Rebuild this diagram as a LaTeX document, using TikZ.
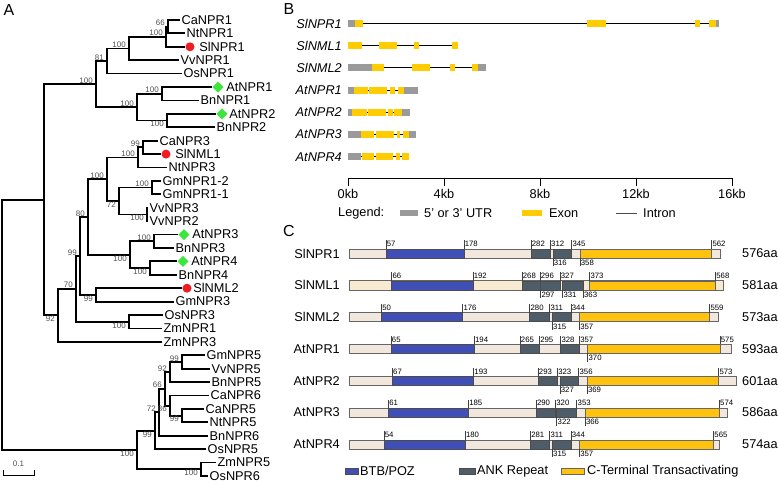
\documentclass[tikz,border=0pt]{standalone}
\usepackage{fontspec}
\setmainfont{Liberation Sans}
\usetikzlibrary{shapes.geometric, positioning}

\definecolor{bsgray}{HTML}{505050}
\definecolor{slred}{HTML}{EE1D23}
\definecolor{atgreen}{HTML}{3CE63C}
\definecolor{exonyellow}{HTML}{FFCC00}
\definecolor{utrgray}{HTML}{9A9A9A}
\definecolor{btbblue}{HTML}{3F4FB5}
\definecolor{ankslate}{HTML}{4E5D68}
\definecolor{ctgold}{HTML}{FFC20E}
\definecolor{protbeige}{HTML}{F2E7DD}
\definecolor{protcream}{HTML}{F7EAD0}

\begin{document}
\begin{tikzpicture}[
    x=1bp, y=-1bp,
    branch/.style={line width=1.8bp},
    leaf/.style={anchor=west, inner sep=1.5bp, font=\fontsize{12.8}{14}\selectfont},
    bsup/.style={anchor=south east, inner sep=0.6bp, xshift=-2.5bp, text=bsgray, font=\fontsize{8}{9}\selectfont},
    bsdown/.style={anchor=north east, inner sep=0.6bp, xshift=-2.5bp, text=bsgray, font=\fontsize{8}{9}\selectfont},
    sldot/.style={circle, fill=slred, minimum size=9bp, inner sep=0pt},
    atmark/.style={diamond, fill=atgreen, minimum size=11bp, inner sep=0pt},
    panel/.style={inner sep=0pt, font=\fontsize{16}{18}\selectfont},
    gene/.style={anchor=east, inner sep=0pt, font=\fontsize{12.8}{14}\selectfont\itshape},
    plain/.style={anchor=west, inner sep=0pt, font=\fontsize{12.8}{14}\selectfont},
    prot/.style={anchor=east, inner sep=0pt, font=\fontsize{12.8}{14}\selectfont},
    exon/.style={fill=exonyellow},
    utr/.style={fill=utrgray},
    intron/.style={line width=0.9bp},
    bar/.style={draw=black!60, line width=0.6bp},
    btb/.style={fill=btbblue, draw=black!70, line width=0.5bp},
    ank/.style={fill=ankslate, draw=black!70, line width=0.5bp},
    cterm/.style={fill=ctgold, draw=black!60, line width=0.5bp},
    tick/.style={draw=black!75, line width=0.4bp},
    numup/.style={anchor=north west, inner sep=0.8bp, font=\fontsize{7.8}{8}\selectfont},
    numdown/.style={anchor=south west, inner sep=0.8bp, font=\fontsize{7.8}{8}\selectfont}
]
\useasboundingbox (0,0) rectangle (778,483);

    % Panel A: tree ----------------------------------------------

    \node[panel] (labA) at (9,10) {A};

    % Leaves
    \node[leaf] (CaNPR1) at (180,20.0) {CaNPR1};
    \node[leaf] (NtNPR1) at (185,33.4) {NtNPR1};
    \node[sldot] (SlNPR1d) at (190,46.8) {};
    \node[leaf, right=3bp of SlNPR1d] (SlNPR1) {SlNPR1};
    \node[leaf] (VvNPR1) at (179,60.2) {VvNPR1};
    \node[leaf] (OsNPR1) at (182,73.6) {OsNPR1};
    \node[atmark] (AtNPR1d) at (218,87.1) {};
    \node[leaf, right=1bp of AtNPR1d] (AtNPR1) {AtNPR1};
    \node[leaf] (BnNPR1) at (199,100.5) {BnNPR1};
    \node[atmark] (AtNPR2d) at (222,113.9) {};
    \node[leaf, right=0bp of AtNPR2d] (AtNPR2) {AtNPR2};
    \node[leaf] (BnNPR2) at (215,127.3) {BnNPR2};
    \node[leaf] (CaNPR3) at (158,140.7) {CaNPR3};
    \node[sldot] (SlNML1d) at (166,154.1) {};
    \node[leaf, right=3bp of SlNML1d] (SlNML1) {SlNML1};
    \node[leaf] (NtNPR3) at (167,167.5) {NtNPR3};
    \node[leaf] (GmNPR12) at (161,180.9) {GmNPR1-2};
    \node[leaf] (GmNPR11) at (161,194.3) {GmNPR1-1};
    \node[leaf] (VvNPR3) at (148,207.7) {VvNPR3};
    \node[leaf] (VvNPR2) at (148,221.2) {VvNPR2};
    \node[atmark] (AtNPR3d) at (184,234.6) {};
    \node[leaf, right=1bp of AtNPR3d] (AtNPR3) {AtNPR3};
    \node[leaf] (BnNPR3) at (174,248.0) {BnNPR3};
    \node[atmark] (AtNPR4d) at (183,261.4) {};
    \node[leaf, right=1bp of AtNPR4d] (AtNPR4) {AtNPR4};
    \node[leaf] (BnNPR4) at (177,274.8) {BnNPR4};
    \node[sldot] (SlNML2d) at (187,288.2) {};
    \node[leaf, right=0bp of SlNML2d] (SlNML2) {SlNML2};
    \node[leaf] (GmNPR3) at (174,301.6) {GmNPR3};
    \node[leaf] (OsNPR3) at (163,315.0) {OsNPR3};
    \node[leaf] (ZmNPR1) at (162,328.4) {ZmNPR1};
    \node[leaf] (ZmNPR3) at (162,341.8) {ZmNPR3};
    \node[leaf] (GmNPR5) at (205,355.3) {GmNPR5};
    \node[leaf] (VvNPR5) at (210,368.7) {VvNPR5};
    \node[leaf] (BnNPR5) at (210,382.1) {BnNPR5};
    \node[leaf] (CaNPR6) at (209,395.5) {CaNPR6};
    \node[leaf] (CaNPR5) at (204,408.9) {CaNPR5};
    \node[leaf] (NtNPR5) at (208,422.3) {NtNPR5};
    \node[leaf] (BnNPR6) at (208,435.7) {BnNPR6};
    \node[leaf] (OsNPR5) at (206,449.1) {OsNPR5};
    \node[leaf] (ZmNPR5) at (216,462.5) {ZmNPR5};
    \node[leaf] (OsNPR6) at (208,475.9) {OsNPR6};

    % Inner nodes
    \coordinate (root) at (2,324.8);
    \coordinate (up) at (44,199.7);
    \coordinate (c1) at (168,26.7);
    \coordinate (c2) at (166,36.8);
    \coordinate (c3) at (129,48.5);
    \coordinate (c4) at (107,61.0);
    \coordinate (c5) at (96,84.1);
    \coordinate (c6) at (162,93.8);
    \coordinate (c7) at (137,107.2);
    \coordinate (c8) at (167,120.6);
    \coordinate (c9) at (143,147.4);
    \coordinate (c10) at (138,157.5);
    \coordinate (c11) at (107,179.3);
    \coordinate (c12) at (152,187.6);
    \coordinate (c13) at (119,201.0);
    \coordinate (c14) at (147,214.5);
    \coordinate (c15) at (88,217.0);
    \coordinate (c16) at (154,241.3);
    \coordinate (c17) at (130,254.7);
    \coordinate (c18) at (80,256.0);
    \coordinate (c19) at (150,268.1);
    \coordinate (c20) at (76,288.8);
    \coordinate (c21) at (96,294.9);
    \coordinate (c22) at (58,315.3);
    \coordinate (c23) at (129,321.7);
    \coordinate (c24) at (182,362.0);
    \coordinate (c25) at (170,372.0);
    \coordinate (c26) at (165,388.8);
    \coordinate (c27) at (170,405.6);
    \coordinate (c28) at (159,412.2);
    \coordinate (c29) at (182,415.6);
    \coordinate (c30) at (155,430.7);
    \coordinate (c31) at (137,449.9);
    \coordinate (c32) at (201,469.2);

    % Branches
    \draw[branch] (root) |- (up) (root) |- (c31);
    \draw[branch] (up) |- (c5) (up) |- (c22);
    \draw[branch] (c5) |- (c4) (c5) |- (c7);
    \draw[branch] (c4) |- (c3) (c4) |- (OsNPR1.west);
    \draw[branch] (c3) |- (c2) (c3) |- (VvNPR1.west);
    \draw[branch] (c2) |- (c1) (c2) |- (SlNPR1d.west);
    \draw[branch] (c1) |- (CaNPR1.west) (c1) |- (NtNPR1.west);
    \draw[branch] (c7) |- (c6) (c7) |- (c8);
    \draw[branch] (c6) |- (AtNPR1d.west) (c6) |- (BnNPR1.west);
    \draw[branch] (c8) |- (AtNPR2d.west) (c8) |- (BnNPR2.west);
    \draw[branch] (c22) |- (c20) (c22) |- (ZmNPR3.west);
    \draw[branch] (c20) |- (c18) (c20) |- (c23);
    \draw[branch] (c23) |- (OsNPR3.west) (c23) |- (ZmNPR1.west);
    \draw[branch] (c18) |- (c15) (c18) |- (c21);
    \draw[branch] (c21) |- (SlNML2d.west) (c21) |- (GmNPR3.west);
    \draw[branch] (c15) |- (c11) (c15) |- (c17);
    \draw[branch] (c17) |- (c16) (c17) |- (c19);
    \draw[branch] (c16) |- (AtNPR3d.west) (c16) |- (BnNPR3.west);
    \draw[branch] (c19) |- (AtNPR4d.west) (c19) |- (BnNPR4.west);
    \draw[branch] (c11) |- (c10) (c11) |- (c13);
    \draw[branch] (c10) |- (c9) (c10) |- (NtNPR3.west);
    \draw[branch] (c9) |- (CaNPR3.west) (c9) |- (SlNML1d.west);
    \draw[branch] (c13) |- (c12) (c13) |- (c14);
    \draw[branch] (c12) |- (GmNPR12.west) (c12) |- (GmNPR11.west);
    \draw[branch] (c14) |- (VvNPR3.west) (c14) |- (VvNPR2.west);
    \draw[branch] (c31) |- (c30) (c31) |- (c32);
    \draw[branch] (c32) |- (ZmNPR5.west) (c32) |- (OsNPR6.west);
    \draw[branch] (c30) |- (c28) (c30) |- (OsNPR5.west);
    \draw[branch] (c28) |- (c26) (c28) |- (BnNPR6.west);
    \draw[branch] (c26) |- (c25) (c26) |- (c27);
    \draw[branch] (c25) |- (c24) (c25) |- (BnNPR5.west);
    \draw[branch] (c24) |- (GmNPR5.west) (c24) |- (VvNPR5.west);
    \draw[branch] (c27) |- (CaNPR6.west) (c27) |- (c29);
    \draw[branch] (c29) |- (CaNPR5.west) (c29) |- (NtNPR5.west);

    % Bootstrap values
    \node[bsup] (b1) at (c1) {66};
    \node[bsup] (b2) at (c2) {100};
    \node[bsup] (b3) at (c3) {100};
    \node[bsup] (b4) at (c4) {81};
    \node[bsup] (b5) at (c5) {100};
    \node[bsup] (b6) at (c6) {100};
    \node[bsup] (b7) at (c7) {100};
    \node[bsdown] (b8) at (c8) {100};
    \node[bsup] (b9) at (c9) {99};
    \node[bsup] (b10) at (c10) {100};
    \node[bsup] (b11) at (c11) {100};
    \node[bsup] (b12) at (c12) {100};
    \node[bsdown] (b13) at (c13) {72};
    \node[bsdown] (b14) at (c14) {100};
    \node[bsup] (b15) at (c15) {80};
    \node[bsup] (b16) at (c16) {100};
    \node[bsdown] (b17) at (c17) {100};
    \node[bsup] (b18) at (c18) {99};
    \node[bsdown] (b19) at (c19) {100};
    \node[bsup] (b20) at (c20) {70};
    \node[bsdown] (b21) at (c21) {99};
    \node[bsdown] (b22) at (c22) {92};
    \node[bsdown] (b23) at (c23) {100};
    \node[bsup] (b24) at (c24) {99};
    \node[bsup] (b25) at (c25) {92};
    \node[bsup] (b26) at (c26) {66};
    \node[bsdown] (b27) at (c27) {86};
    \node[bsup] (b28) at (c28) {72};
    \node[bsdown] (b29) at (c29) {99};
    \node[bsdown] (b30) at (c30) {99};
    \node[bsdown] (b31) at (c31) {100};
    \node[bsdown] (b32) at (c32) {100};

    % Scale bar
    \coordinate (sbl) at (3,475);
    \coordinate (sbr) at (34,475);
    \draw[line width=1bp] ([yshift=5bp]sbl) -- (sbl) -- (sbr) -- ([yshift=5bp]sbr);
    \node[text=bsgray, font=\fontsize{8}{9}\selectfont] (sblab) at (18.5,464) {0.1};

    % Panel B: gene structures ----------------------------------

    \node[panel] (labB) at (289,9) {B};
    \node[gene] (gSlNPR1) at (342,23.5) {SlNPR1};
    \node[gene] (gSlNML1) at (342,45.7) {SlNML1};
    \node[gene] (gSlNML2) at (342,67.9) {SlNML2};
    \node[gene] (gAtNPR1) at (342,90.1) {AtNPR1};
    \node[gene] (gAtNPR2) at (342,112.3) {AtNPR2};
    \node[gene] (gAtNPR3) at (342,134.5) {AtNPR3};
    \node[gene] (gAtNPR4) at (342,156.7) {AtNPR4};

    \begin{scope}[shift={(348,0)}, x=24bp]
        % SlNPR1
        \begin{scope}[shift={(0,23.5)}]
            \draw[intron] (0,0) -- (15.47,0);
            \fill[utr] (0,-3.5) rectangle (0.29,3.5);
            \fill[exon] (0.29,-3.5) rectangle (0.63,3.5);
            \fill[exon] (9.96,-3.5) rectangle (10.75,3.5);
            \fill[exon] (14.46,-3.5) rectangle (14.67,3.5);
            \fill[exon] (15.05,-3.5) rectangle (15.33,3.5);
            \fill[utr] (15.33,-3.5) rectangle (15.47,3.5);
        \end{scope}
        % SlNML1
        \begin{scope}[shift={(0,45.7)}]
            \draw[intron] (0,0) -- (4.58,0);
            \fill[exon] (0,-3.5) rectangle (0.58,3.5);
            \fill[exon] (1.29,-3.5) rectangle (2.04,3.5);
            \fill[exon] (2.75,-3.5) rectangle (2.96,3.5);
            \fill[exon] (4.33,-3.5) rectangle (4.58,3.5);
        \end{scope}
        % SlNML2
        \begin{scope}[shift={(0,67.9)}]
            \draw[intron] (0,0) -- (5.75,0);
            \fill[utr] (0,-3.5) rectangle (1.0,3.5);
            \fill[exon] (1.0,-3.5) rectangle (1.5,3.5);
            \fill[exon] (2.67,-3.5) rectangle (3.42,3.5);
            \fill[exon] (4.25,-3.5) rectangle (4.46,3.5);
            \fill[exon] (5.17,-3.5) rectangle (5.42,3.5);
            \fill[utr] (5.42,-3.5) rectangle (5.75,3.5);
        \end{scope}
        % AtNPR1
        \begin{scope}[shift={(0,90.1)}]
            \draw[intron] (0,0) -- (2.92,0);
            \fill[utr] (0,-3.5) rectangle (0.25,3.5);
            \fill[exon] (0.25,-3.5) rectangle (0.83,3.5);
            \fill[exon] (0.88,-3.5) rectangle (1.63,3.5);
            \fill[exon] (1.75,-3.5) rectangle (1.96,3.5);
            \fill[exon] (2.08,-3.5) rectangle (2.33,3.5);
            \fill[utr] (2.33,-3.5) rectangle (2.92,3.5);
        \end{scope}
        % AtNPR2
        \begin{scope}[shift={(0,112.3)}]
            \draw[intron] (0,0) -- (2.58,0);
            \fill[utr] (0,-3.5) rectangle (0.17,3.5);
            \fill[exon] (0.17,-3.5) rectangle (0.79,3.5);
            \fill[exon] (0.83,-3.5) rectangle (1.58,3.5);
            \fill[exon] (1.67,-3.5) rectangle (1.88,3.5);
            \fill[exon] (1.92,-3.5) rectangle (2.25,3.5);
            \fill[utr] (2.25,-3.5) rectangle (2.58,3.5);
        \end{scope}
        % AtNPR3
        \begin{scope}[shift={(0,134.5)}]
            \draw[intron] (0,0) -- (2.83,0);
            \fill[utr] (0,-3.5) rectangle (0.54,3.5);
            \fill[exon] (0.54,-3.5) rectangle (1.08,3.5);
            \fill[exon] (1.17,-3.5) rectangle (1.92,3.5);
            \fill[exon] (2.04,-3.5) rectangle (2.17,3.5);
            \fill[exon] (2.29,-3.5) rectangle (2.54,3.5);
            \fill[utr] (2.54,-3.5) rectangle (2.83,3.5);
        \end{scope}
        % AtNPR4
        \begin{scope}[shift={(0,156.7)}]
            \draw[intron] (0,0) -- (2.54,0);
            \fill[utr] (0,-3.5) rectangle (0.54,3.5);
            \fill[exon] (0.58,-3.5) rectangle (1.08,3.5);
            \fill[exon] (1.17,-3.5) rectangle (1.88,3.5);
            \fill[exon] (2.0,-3.5) rectangle (2.17,3.5);
            \fill[exon] (2.25,-3.5) rectangle (2.54,3.5);
        \end{scope}

        % Axis
        \draw[line width=0.8bp] (0,178) -- (16,178);
        \foreach \k in {0,4,8,12,16}
            \draw[line width=0.8bp] (\k,178) -- (\k,186) node[below, inner sep=2.5bp, font=\fontsize{12.8}{14}\selectfont] (kb\k) {\k kb};
    \end{scope}

    % Legend B
    \node[plain] (legB) at (338,213) {Legend:};
    \fill[utr] (400,210) rectangle (418,216);
    \node[plain] (legUTR) at (424,213) {5' or 3' UTR};
    \fill[exon] (522,210) rectangle (542,216);
    \node[plain] (legExon) at (549,213) {Exon};
    \draw[line width=0.8bp, black!70] (616,213) -- (637,213);
    \node[plain] (legIntron) at (643,213) {Intron};

    % Panel C: protein domains ----------------------------------

    \node[panel] (labC) at (289,231) {C};
    \node[prot] (pSlNPR1) at (340,253.5) {SlNPR1};
    \node[prot] (pSlNML1) at (340,285.3) {SlNML1};
    \node[prot] (pSlNML2) at (340,317.1) {SlNML2};
    \node[prot] (pAtNPR1) at (340,348.9) {AtNPR1};
    \node[prot] (pAtNPR2) at (340,380.7) {AtNPR2};
    \node[prot] (pAtNPR3) at (340,412.5) {AtNPR3};
    \node[prot] (pAtNPR4) at (340,444.3) {AtNPR4};

    \begin{scope}[shift={(349,0)}, x=0.645bp]
        % SlNPR1
        \begin{scope}[shift={(0,253.5)}]
            \draw[bar, fill=protbeige] (0,-4.5) rectangle (576,4.5);
            \draw[btb] (57,-4.5) rectangle (178,4.5);
            \draw[ank] (282,-4.5) rectangle (312,4.5);
            \draw[ank] (316,-4.5) rectangle (345,4.5);
            \draw[cterm] (358,-4.5) rectangle (562,4.5);
            \foreach \a in {57,178,282,312,345,562}
                \draw[tick] (\a,-4.5) -- (\a,-13) node[numup] (r1u\a) {\a};
            \foreach \a in {316,358}
                \draw[tick] (\a,4.5) -- (\a,13) node[numdown] (r1d\a) {\a};
        \end{scope}
        % SlNML1
        \begin{scope}[shift={(0,285.3)}]
            \draw[bar, fill=protcream] (0,-4.5) rectangle (581,4.5);
            \draw[btb] (66,-4.5) rectangle (192,4.5);
            \draw[ank] (268,-4.5) rectangle (296,4.5);
            \draw[ank] (297,-4.5) rectangle (327,4.5);
            \draw[ank] (331,-4.5) rectangle (363,4.5);
            \draw[cterm] (373,-4.5) rectangle (568,4.5);
            \foreach \a in {66,192,268,296,327,373,568}
                \draw[tick] (\a,-4.5) -- (\a,-13) node[numup] (r2u\a) {\a};
            \foreach \a in {297,331,363}
                \draw[tick] (\a,4.5) -- (\a,13) node[numdown] (r2d\a) {\a};
        \end{scope}
        % SlNML2
        \begin{scope}[shift={(0,317.1)}]
            \draw[bar, fill=protbeige] (0,-4.5) rectangle (573,4.5);
            \draw[btb] (50,-4.5) rectangle (176,4.5);
            \draw[ank] (280,-4.5) rectangle (311,4.5);
            \draw[ank] (315,-4.5) rectangle (344,4.5);
            \draw[cterm] (357,-4.5) rectangle (559,4.5);
            \foreach \a in {50,176,280,311,344,559}
                \draw[tick] (\a,-4.5) -- (\a,-13) node[numup] (r3u\a) {\a};
            \foreach \a in {315,357}
                \draw[tick] (\a,4.5) -- (\a,13) node[numdown] (r3d\a) {\a};
        \end{scope}
        % AtNPR1
        \begin{scope}[shift={(0,348.9)}]
            \draw[bar, fill=protbeige] (0,-4.5) rectangle (593,4.5);
            \draw[btb] (65,-4.5) rectangle (194,4.5);
            \draw[ank] (265,-4.5) rectangle (295,4.5);
            \draw[ank] (328,-4.5) rectangle (357,4.5);
            \draw[cterm] (370,-4.5) rectangle (575,4.5);
            \foreach \a in {65,194,265,295,328,357,575}
                \draw[tick] (\a,-4.5) -- (\a,-13) node[numup] (r4u\a) {\a};
            \foreach \a in {370}
                \draw[tick] (\a,4.5) -- (\a,13) node[numdown] (r4d\a) {\a};
        \end{scope}
        % AtNPR2
        \begin{scope}[shift={(0,380.7)}]
            \draw[bar, fill=protbeige] (0,-4.5) rectangle (601,4.5);
            \draw[btb] (67,-4.5) rectangle (193,4.5);
            \draw[ank] (293,-4.5) rectangle (323,4.5);
            \draw[ank] (327,-4.5) rectangle (356,4.5);
            \draw[cterm] (369,-4.5) rectangle (573,4.5);
            \foreach \a in {67,193,293,323,356,573}
                \draw[tick] (\a,-4.5) -- (\a,-13) node[numup] (r5u\a) {\a};
            \foreach \a in {327,369}
                \draw[tick] (\a,4.5) -- (\a,13) node[numdown] (r5d\a) {\a};
        \end{scope}
        % AtNPR3
        \begin{scope}[shift={(0,412.5)}]
            \draw[bar, fill=protbeige] (0,-4.5) rectangle (586,4.5);
            \draw[btb] (61,-4.5) rectangle (185,4.5);
            \draw[ank] (290,-4.5) rectangle (320,4.5);
            \draw[ank] (322,-4.5) rectangle (353,4.5);
            \draw[cterm] (366,-4.5) rectangle (574,4.5);
            \foreach \a in {61,185,290,320,353,574}
                \draw[tick] (\a,-4.5) -- (\a,-13) node[numup] (r6u\a) {\a};
            \foreach \a in {322,366}
                \draw[tick] (\a,4.5) -- (\a,13) node[numdown] (r6d\a) {\a};
        \end{scope}
        % AtNPR4
        \begin{scope}[shift={(0,444.3)}]
            \draw[bar, fill=protbeige] (0,-4.5) rectangle (574,4.5);
            \draw[btb] (54,-4.5) rectangle (180,4.5);
            \draw[ank] (281,-4.5) rectangle (311,4.5);
            \draw[ank] (315,-4.5) rectangle (344,4.5);
            \draw[cterm] (357,-4.5) rectangle (565,4.5);
            \foreach \a in {54,180,281,311,344,565}
                \draw[tick] (\a,-4.5) -- (\a,-13) node[numup] (r7u\a) {\a};
            \foreach \a in {315,357}
                \draw[tick] (\a,4.5) -- (\a,13) node[numdown] (r7d\a) {\a};
        \end{scope}
    \end{scope}

    % Lengths
    \node[plain] (len1) at (742,253.5) {576aa};
    \node[plain] (len2) at (742,285.3) {581aa};
    \node[plain] (len3) at (742,317.1) {573aa};
    \node[plain] (len4) at (742,348.9) {593aa};
    \node[plain] (len5) at (742,380.7) {601aa};
    \node[plain] (len6) at (742,412.5) {586aa};
    \node[plain] (len7) at (742,444.3) {574aa};

    % Legend C
    \draw[btb] (345,468) rectangle (358,474);
    \node[plain] (legBTB) at (360,471) {BTB/POZ};
    \draw[ank] (459,468) rectangle (475,474);
    \node[plain] (legANK) at (477,471) {ANK Repeat};
    \draw[cterm] (561,468) rectangle (584,474);
    \node[plain] (legCT) at (587,471) {C-Terminal Transactivating};

\end{tikzpicture}
\end{document}
